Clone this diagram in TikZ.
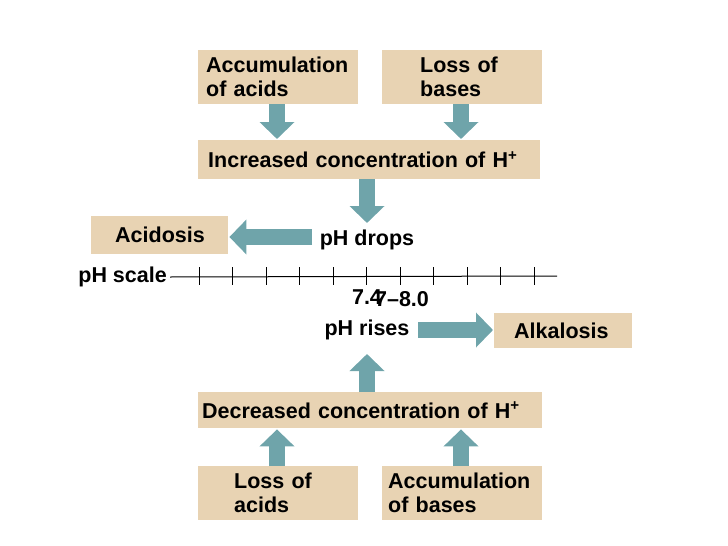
\documentclass[tikz,border=0pt]{standalone}
\usepackage{fontspec}
\setmainfont{Liberation Sans}
\usetikzlibrary{arrows.meta,positioning}
\begin{document}
\begin{tikzpicture}[x=1pt,y=-1pt,font=\fontsize{21.5}{24}\selectfont\bfseries,
	box/.style={fill=boxtan,draw=none,align=left,anchor=north west,inner ysep=0pt},
	blk/.style={draw=arrteal,line width=16pt,-{Triangle[width=34pt,length=17pt]},shorten >=1pt}]
	\definecolor{boxtan}{HTML}{E8D3B3}
	\definecolor{arrteal}{HTML}{6FA4AA}
	\useasboundingbox (0,0) rectangle (728,546);

	%top boxes
	\node[box,minimum height=54pt,text width=144pt,inner xsep=8pt] (accA) at (198,50) {Accumulation\\of acids};
	\node[box,minimum height=54pt,text width=84pt,inner xsep=38pt] (lossB) at (382,50) {Loss of\\bases};
	\node[box,minimum height=39pt,text width=322pt,inner xsep=10pt] (incH) at (198,140) {Increased concentration of H\textsuperscript{+}};

	%acidosis
	\node[box,minimum height=38pt,text width=89pt,inner xsep=24pt] (acid) at (91,216) {Acidosis};
	\node (drops) at (367,240) {pH drops};

	%pH scale
	\node[anchor=east,inner xsep=3pt] (scale) at (170,277) {pH scale};
	\draw[line width=1pt] (scale.east) -- (557,276);
	\foreach \i in {0,...,10}
	  \draw[line width=1pt] (199+33.5*\i,267) -- (199+33.5*\i,285);
	\node (seven) at (367,297) {7.4};
	\node (range) at (402,299) {7--8.0};

	%alkalosis
	\node (rises) at (367,330) {pH rises};
	\node[box,minimum height=35pt,text width=98pt,inner xsep=20pt] (alk) at (494,313) {Alkalosis};

	%bottom boxes
	\node[box,minimum height=36pt,text width=336pt,inner xsep=4pt] (decH) at (198,392) {Decreased concentration of H\textsuperscript{+}};
	\node[box,minimum height=54pt,text width=88pt,inner xsep=36pt] (lossA) at (198,466) {Loss of\\acids};
	\node[box,minimum height=54pt,text width=148pt,inner xsep=6pt] (accB) at (382,466) {Accumulation\\of bases};

	%arrow columns
	\coordinate (colL) at (277,0);
	\coordinate (colM) at (367,0);
	\coordinate (colR) at (461,0);
	\coordinate (dropTip) at (367,224);
	\coordinate (riseTip) at (367,353);
	\coordinate (dropTail) at (312,237);
	\coordinate (riseTail) at (418,330);

	%arrows
	\draw[blk] (colL |- accA.south) -- (colL |- incH.north);
	\draw[blk] (colR |- lossB.south) -- (colR |- incH.north);
	\draw[blk] (colM |- incH.south) -- (dropTip);
	\draw[blk] (dropTail) -- (dropTail -| acid.east);
	\draw[blk] (riseTail) -- (riseTail -| alk.west);
	\draw[blk] (colM |- decH.north) -- (riseTip);
	\draw[blk] (colL |- lossA.north) -- (colL |- decH.south);
	\draw[blk] (colR |- accB.north) -- (colR |- decH.south);
\end{tikzpicture}
\end{document}
